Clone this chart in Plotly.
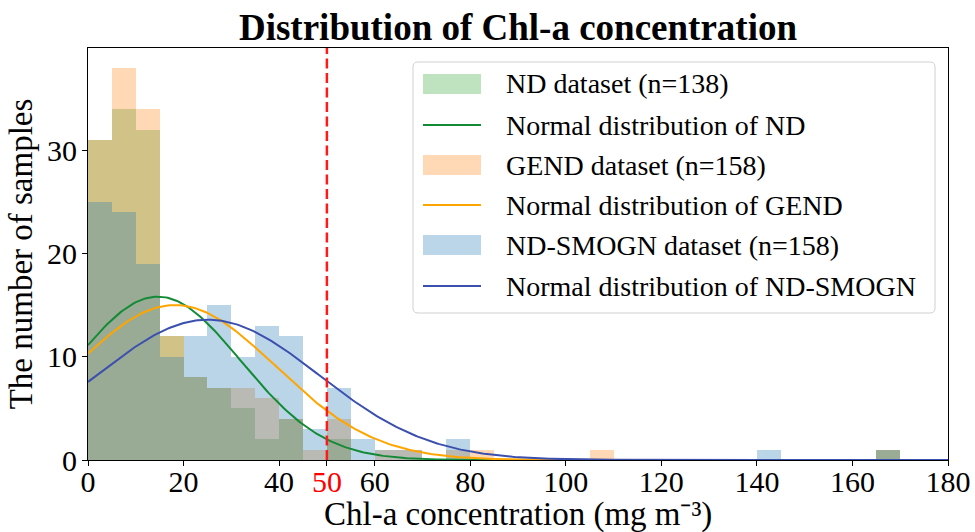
import numpy as np
import plotly.graph_objects as go

# ---------------- data ----------------
BIN_LEFT = [0, 5, 10, 15, 20, 25, 30, 35, 40, 45, 50, 55, 60, 65, 70, 75, 80, 85,
            90, 95, 100, 105, 110, 115, 120, 125, 130, 135, 140, 145, 150, 155, 160, 165, 170, 175]
BIN_WIDTH = 5

ND_COUNTS = [31, 34, 32, 12, 8, 7, 5, 2, 4, 0, 2, 0, 0, 0, 0, 0, 0, 0,
             0, 0, 0, 0, 0, 0, 0, 0, 0, 0, 0, 0, 0, 0, 0, 1, 0, 0]
GEND_COUNTS = [31, 38, 34, 12, 8, 7, 7, 6, 4, 1, 4, 0, 1, 1, 0, 1, 1, 0,
               0, 0, 0, 1, 0, 0, 0, 0, 0, 0, 0, 0, 0, 0, 0, 1, 0, 0]
SMOGN_COUNTS = [25, 24, 19, 10, 12, 15, 10, 13, 12, 3, 7, 2, 1, 1, 0, 2, 0, 0,
                0, 0, 0, 0, 0, 0, 0, 0, 0, 0, 1, 0, 0, 0, 0, 1, 0, 0]

# fitted normal-distribution parameters (mean, std, n)
ND_FIT = (14.6, 17.4, 138)
GEND_FIT = (18.2, 21.0, 158)
SMOGN_FIT = (25.1, 23.2, 158)

SERIES_NAMES = ["ND dataset (n=138)", "GEND dataset (n=158)", "ND-SMOGN dataset (n=158)"]
CURVE_NAMES = ["Normal distribution of ND", "Normal distribution of GEND",
               "Normal distribution of ND-SMOGN"]

X_TICKS = [0, 20, 40, 50, 60, 80, 100, 120, 140, 160, 180]
Y_TICKS = [0, 10, 20, 30]
THRESHOLD = 50
X_TITLE = "Chl-a concentration (mg m⁻³)"
Y_TITLE = "The number of samples"
TITLE = "Distribution of Chl-a concentration"

# ---------------- style ----------------
FONT = "Liberation Serif"
BAR_COLORS = ["#2ca02c", "#ff7f0e", "#1f77b4"]
LINE_COLORS = ["#138a36", "#ffa500", "#3a4fae"]
BAR_ALPHA = 0.3

W, H = 975, 532
L, R, T, B = 88, 948, 48, 460


def xp(px):
    return (px - L) / (R - L)


def yp(py):
    return (B - py) / (B - T)


def rgba(hexc, a):
    h = hexc.lstrip("#")
    return "rgba(%d,%d,%d,%s)" % (int(h[0:2], 16), int(h[2:4], 16), int(h[4:6], 16), a)


fig = go.Figure()

for counts, name, col in zip([ND_COUNTS, GEND_COUNTS, SMOGN_COUNTS], SERIES_NAMES, BAR_COLORS):
    fig.add_trace(go.Bar(x=BIN_LEFT, y=counts, width=BIN_WIDTH, offset=0, name=name,
                         marker=dict(color=col, line=dict(width=0)), opacity=BAR_ALPHA,
                         showlegend=False))

xs = np.linspace(0, 180, 400)
for (mu, sd, n), name, col in zip([ND_FIT, GEND_FIT, SMOGN_FIT], CURVE_NAMES, LINE_COLORS):
    ys = n * BIN_WIDTH * np.exp(-0.5 * ((xs - mu) / sd) ** 2) / (sd * np.sqrt(2 * np.pi))
    fig.add_trace(go.Scatter(x=xs, y=ys, mode="lines", name=name,
                             line=dict(color=col, width=2), showlegend=False))

# threshold line
fig.add_shape(type="line", xref="x", yref="paper", x0=THRESHOLD, x1=THRESHOLD, y0=0, y1=1,
              line=dict(color="#ff1a1a", width=2.5, dash="10px,4.5px"), layer="above")

# ---------------- manual legend (matplotlib style) ----------------
LX0, LX1, LY0, LY1 = 413, 935, 62, 313
rad = 5
rx = rad / (R - L)
ry = rad / (B - T)
x0, x1, y0, y1 = xp(LX0), xp(LX1), yp(LY1), yp(LY0)
path = (f"M{x0+rx},{y0} L{x1-rx},{y0} Q{x1},{y0} {x1},{y0+ry} L{x1},{y1-ry} "
        f"Q{x1},{y1} {x1-rx},{y1} L{x0+rx},{y1} Q{x0},{y1} {x0},{y1-ry} "
        f"L{x0},{y0+ry} Q{x0},{y0} {x0+rx},{y0} Z")
fig.add_shape(type="path", xref="paper", yref="paper", path=path,
              fillcolor="rgba(255,255,255,0.8)", line=dict(color="#d0d0d0", width=1),
              layer="above")

row_y = [84, 125, 165, 205, 245, 286]
labels = [SERIES_NAMES[0], CURVE_NAMES[0], SERIES_NAMES[1], CURVE_NAMES[1],
          SERIES_NAMES[2], CURVE_NAMES[2]]
for i, (ry_px, lab) in enumerate(zip(row_y, labels)):
    k = i // 2
    if i % 2 == 0:
        fig.add_shape(type="rect", xref="paper", yref="paper",
                      x0=xp(423), x1=xp(481), y0=yp(ry_px + 10), y1=yp(ry_px - 10),
                      fillcolor=rgba(BAR_COLORS[k], BAR_ALPHA), line=dict(width=0),
                      layer="above")
    else:
        fig.add_shape(type="line", xref="paper", yref="paper",
                      x0=xp(423), x1=xp(481), y0=yp(ry_px), y1=yp(ry_px),
                      line=dict(color=LINE_COLORS[k], width=2), layer="above")
    fig.add_annotation(xref="paper", yref="paper", x=xp(504), y=yp(ry_px), text=lab,
                       showarrow=False, xanchor="left", yanchor="middle",
                       font=dict(family=FONT, size=28, color="black"))

# x-axis title placed as annotation (tight matplotlib-like spacing)
fig.add_annotation(xref="paper", yref="paper", x=0.5, y=yp(514), text=X_TITLE,
                   showarrow=False, xanchor="center", yanchor="middle",
                   font=dict(family=FONT, size=33, color="black"))

tick_text = [('<span style="color:red">%d</span>' % v) if v == THRESHOLD else str(v)
             for v in X_TICKS]

fig.update_layout(
    width=W, height=H,
    margin=dict(l=L, r=W - R, t=T, b=H - B, pad=0),
    paper_bgcolor="white", plot_bgcolor="white",
    barmode="overlay", bargap=0,
    font=dict(family=FONT, size=30, color="black"),
    title=dict(text="<b>%s</b>" % TITLE, x=(L + R) / 2 / W,
               xanchor="center", y=1 - 27 / H, yanchor="middle", yref="container",
               font=dict(family=FONT, size=37, color="black")),
    xaxis=dict(range=[0, 180], tickmode="array", tickvals=X_TICKS, ticktext=tick_text,
               showline=True, linecolor="black", linewidth=1, mirror=True,
               ticks="outside", ticklen=5, tickwidth=1, tickcolor="black",
               showgrid=False, zeroline=False, automargin=False,
               ticklabelstandoff=-10,
               tickfont=dict(family=FONT, size=30)),
    yaxis=dict(range=[0, 39.9], tickmode="array", tickvals=Y_TICKS,
               showline=True, linecolor="black", linewidth=1, mirror=True,
               ticks="outside", ticklen=5, tickwidth=1, tickcolor="black",
               showgrid=False, zeroline=False, automargin=False,
               ticklabelstandoff=-1,
               tickfont=dict(family=FONT, size=30),
               title=dict(text=Y_TITLE, standoff=4,
                          font=dict(family=FONT, size=33))),
)

fig.write_html("out.html")
